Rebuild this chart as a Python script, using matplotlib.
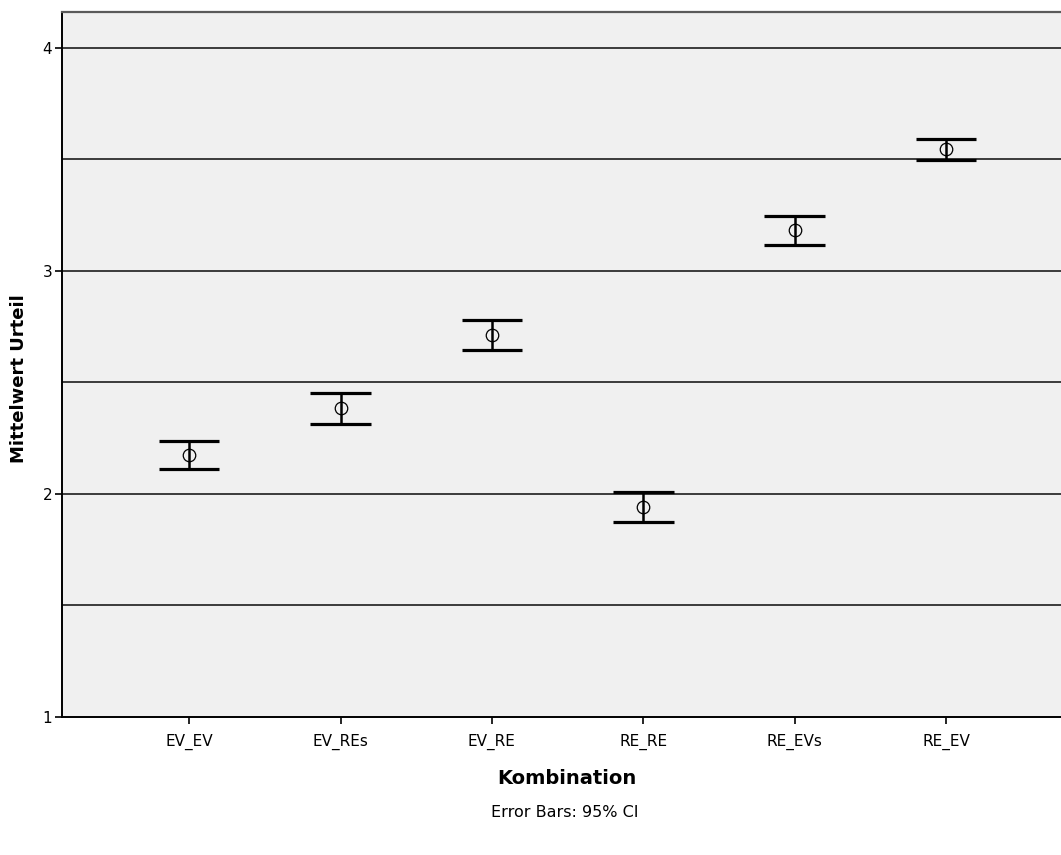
import numpy as np
import matplotlib.pyplot as plt

plt.rcParams['font.family'] = ['DejaVu Sans']

# data (mean and 95% CI bounds)
groups = ["EV_EV", "EV_REs", "EV_RE", "RE_RE", "RE_EVs", "RE_EV"]
means = [2.175, 2.386, 2.713, 1.942, 3.184, 3.547]
ci_low = [2.112, 2.314, 2.646, 1.874, 3.117, 3.498]
ci_high = [2.238, 2.453, 2.780, 2.009, 3.247, 3.592]

x = np.arange(1, len(groups) + 1)
means = np.array(means)
err = [means - np.array(ci_low), np.array(ci_high) - means]

fig = plt.figure(figsize=(10.61, 8.55), dpi=100)
ax = fig.add_axes([62/1061, 1 - 717/855, 1 - 62/1061, (717 - 12)/855])
ax.set_facecolor('#f0f0f0')

# horizontal grid lines
for g in [1.5, 2.0, 2.5, 3.0, 3.5, 4.0]:
    ax.axhline(g, color='#3c3c3c', lw=1.4, zorder=1)

# vertical CI lines + mean markers
ax.errorbar(x, means, yerr=err, fmt='o', mfc='none', mec='black', ms=9, mew=0.9,
            ecolor='black', elinewidth=1.8, capsize=0, zorder=3)
# caps
ax.hlines(ci_low, x - 0.2, x + 0.2, colors='black', lw=2.3, zorder=3)
ax.hlines(ci_high, x - 0.2, x + 0.2, colors='black', lw=2.3, zorder=3)

ax.set_xlim(0.16, 6.76)
ax.set_ylim(1.0, 4.161)
ax.set_xticks(x)
ax.set_xticklabels(groups)
ax.set_yticks([1, 2, 3, 4])
ax.tick_params(axis='both', labelsize=11, length=5, width=1.2, color='black')
ax.tick_params(axis='x', pad=7)
ax.tick_params(axis='y', pad=2)

ax.spines['right'].set_visible(False)
ax.spines['top'].set_color('#5a5a5a')
ax.spines['top'].set_linewidth(1.6)
ax.spines['left'].set_color('black')
ax.spines['left'].set_linewidth(1.4)
ax.spines['bottom'].set_color('black')
ax.spines['bottom'].set_linewidth(1.4)

ax.set_xlabel("Kombination", fontsize=14, fontweight='bold')
ax.set_ylabel("Mittelwert Urteil", fontsize=13, fontweight='bold')
ax.xaxis.set_label_coords(0.5055, -0.074)
ax.yaxis.set_label_coords(-0.034, 0.48)

fig.text(565/1061, 1 - 812/855, "Error Bars: 95% CI", fontsize=11.5, ha='center', va='center')

fig.savefig("out.png", dpi=100)
